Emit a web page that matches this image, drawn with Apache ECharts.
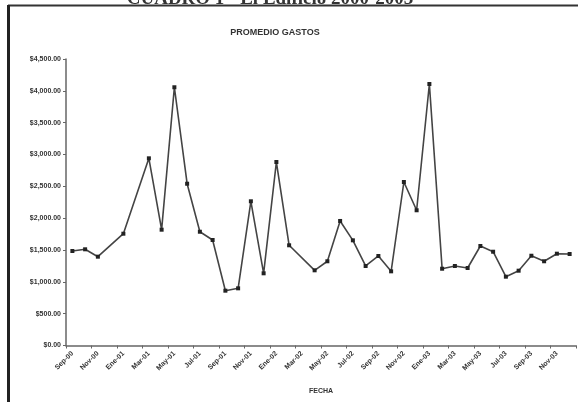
<!DOCTYPE html>
<html>
<head>
<meta charset="utf-8">
<script src="https://cdn.jsdelivr.net/npm/echarts@6/dist/echarts.min.js"></script>
<style>html,body{margin:0;padding:0;background:#fff;}#c{width:578px;height:402px;}</style>
</head>
<body>
<div id="c"></div>
<script>
var categories = ['Sep-00','Oct-00','Nov-00','Dic-00','Ene-01','Feb-01','Mar-01','Abr-01','May-01','Jun-01',
  'Jul-01','Ago-01','Sep-01','Oct-01','Nov-01','Dic-01','Ene-02','Feb-02','Mar-02','Abr-02',
  'May-02','Jun-02','Jul-02','Ago-02','Sep-02','Oct-02','Nov-02','Dic-02','Ene-03','Feb-03',
  'Mar-03','Abr-03','May-03','Jun-03','Jul-03','Ago-03','Sep-03','Oct-03','Nov-03','Dic-03'];
var gastos = [1484, 1511, 1395, null, 1756, null, 2940, 1819, 4056, 2541,
  1787, 1657, 861, 898, 2265, 1134, 2882, 1574, null, 1181,
  1323, 1956, 1652, 1249, 1406, 1165, 2568, 2124, 4107, 1206,
  1249, 1217, 1563, 1473, 1081, 1175, 1410, 1323, 1442, 1437];
var yTicks = {min: 0, max: 4500, interval: 500};

function money(v) {
  var s = Math.round(v).toString().replace(/\B(?=(\d{3})+(?!\d))/g, ',');
  return '$' + s + '.00';
}

var chart = echarts.init(document.getElementById('c'), null, {renderer: 'canvas'});
chart.setOption({
  backgroundColor: '#ffffff',
  animation: false,
  title: {
    text: 'PROMEDIO GASTOS',
    left: 270, top: 23, textAlign: 'center',
    textStyle: {fontFamily: 'Liberation Sans, Arial', fontWeight: 'bold', fontSize: 9, color: '#333'}
  },
  grid: {left: 66, right: 2, top: 59, bottom: 56.5, containLabel: false},
  xAxis: {
    type: 'category',
    data: categories,
    boundaryGap: true,
    name: 'FECHA',
    nameLocation: 'middle',
    nameGap: 42,
    nameTextStyle: {fontFamily: 'Liberation Sans, Arial', fontWeight: 'bold', fontSize: 7, color: '#333'},
    axisLine: {lineStyle: {color: '#666', width: 1.5}},
    axisTick: {show: true, interval: 1, length: 3, lineStyle: {color: '#666'}},
    axisLabel: {interval: 1, rotate: 45, margin: 7, fontFamily: 'Liberation Sans, Arial', fontWeight: 'bold', fontSize: 7, color: '#333'},
    splitLine: {show: false}
  },
  yAxis: {
    type: 'value',
    min: yTicks.min, max: yTicks.max, interval: yTicks.interval,
    axisLine: {show: true, lineStyle: {color: '#666', width: 1.5}},
    axisTick: {show: true, length: 3, lineStyle: {color: '#666'}},
    axisLabel: {formatter: money, margin: 5, fontFamily: 'Liberation Sans, Arial', fontWeight: 'bold', fontSize: 7, color: '#333'},
    splitLine: {show: false}
  },
  series: [{
    type: 'line',
    data: gastos,
    connectNulls: true,
    symbol: 'rect',
    symbolSize: 4,
    itemStyle: {color: '#222'},
    lineStyle: {color: '#444', width: 1.6}
  }],
  graphic: [
    {type: 'text', x: 270, y: 9, style: {text: 'CUADRO 1 - El Edificio 2000-2003', font: 'bold 19px "Liberation Serif"', fill: '#333', align: 'center', verticalAlign: 'bottom'}, z: 1},
    {type: 'line', shape: {x1: 8, y1: 5.5, x2: 578, y2: 5.5}, style: {stroke: '#333', lineWidth: 2}, z: 3},
    {type: 'line', shape: {x1: 8.5, y1: 5, x2: 8.5, y2: 402}, style: {stroke: '#222', lineWidth: 3}, z: 3}
  ]
});
</script>
</body>
</html>
